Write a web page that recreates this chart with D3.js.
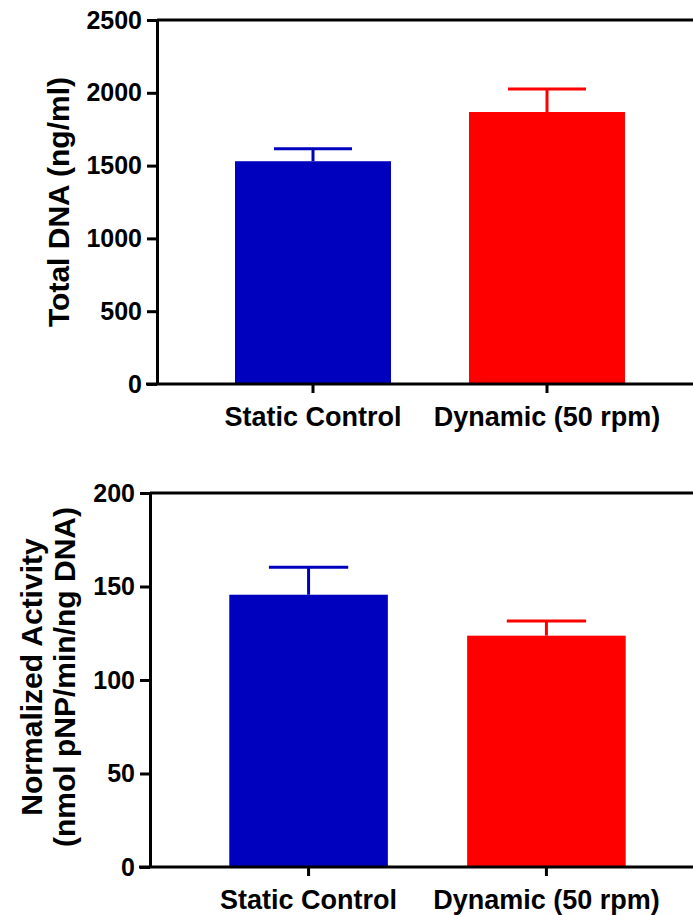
<!DOCTYPE html>
<html>
<head>
<meta charset="utf-8">
<script src="https://cdn.jsdelivr.net/npm/d3@7/dist/d3.min.js"></script>
<style>
  html, body { margin: 0; padding: 0; background: #fff; }
  svg { display: block; }
  text { font-family: "Liberation Sans", Arial, sans-serif; font-weight: bold; fill: #000; }
</style>
</head>
<body>
<svg id="chart" width="693" height="915"></svg>
<script>
// Group labels shared by both panels
const groups = ["Static Control", "Dynamic (50 rpm)"];
const barColors = ["#0000bf", "#ff0000"];

// Panel A: total DNA (ng/ml), mean and SEM
const dnaMean = [1530, 1868];
const dnaErr = [86, 158];
const dnaTicks = [0, 500, 1000, 1500, 2000, 2500];

// Panel B: normalized activity (nmol pNP/min/ng DNA), mean and SEM
const activityMean = [145.6, 123.7];
const activityErr = [14.7, 7.9];
const activityTicks = [0, 50, 100, 150, 200];

const svg = d3.select("#chart");

function drawPanel(cfg) {
  const g = svg.append("g");
  const x = d3.scaleBand()
    .domain(groups)
    .range([cfg.left, cfg.right])
    .paddingInner(1 / 3)
    .paddingOuter(1 / 3);
  const y = d3.scaleLinear()
    .domain([0, d3.max(cfg.ticks)])
    .range([cfg.bottom, cfg.top]);

  // bars
  g.selectAll("rect.bar")
    .data(cfg.mean)
    .join("rect")
    .attr("class", "bar")
    .attr("x", (d, i) => x(groups[i]))
    .attr("width", x.bandwidth())
    .attr("y", d => y(d))
    .attr("height", d => y(0) - y(d))
    .attr("fill", (d, i) => barColors[i]);

  // error bars (upper only)
  const eb = g.selectAll("g.err")
    .data(cfg.mean.map((m, i) => ({ m, e: cfg.err[i], i })))
    .join("g")
    .attr("class", "err")
    .attr("stroke", d => barColors[d.i])
    .attr("stroke-width", 3);
  eb.append("line")
    .attr("x1", d => x(groups[d.i]) + x.bandwidth() / 2)
    .attr("x2", d => x(groups[d.i]) + x.bandwidth() / 2)
    .attr("y1", d => y(d.m))
    .attr("y2", d => y(d.m + d.e));
  eb.append("line")
    .attr("x1", d => x(groups[d.i]) + x.bandwidth() / 4)
    .attr("x2", d => x(groups[d.i]) + x.bandwidth() * 3 / 4)
    .attr("y1", d => y(d.m + d.e))
    .attr("y2", d => y(d.m + d.e));

  // top frame line
  g.append("line")
    .attr("x1", cfg.left)
    .attr("x2", cfg.right + 20)
    .attr("y1", y(d3.max(cfg.ticks)))
    .attr("y2", y(d3.max(cfg.ticks)))
    .attr("stroke", "#000")
    .attr("stroke-width", 3);

  // y axis
  const ya = g.append("g")
    .attr("transform", `translate(${cfg.left},0)`)
    .call(d3.axisLeft(y).tickValues(cfg.ticks).tickFormat(d3.format("d"))
      .tickSize(10).tickSizeOuter(0).tickPadding(5));
  ya.selectAll("path, line").attr("stroke", "#000").attr("stroke-width", 3);
  ya.selectAll("text")
    .style("font-family", "'Liberation Sans', Arial, sans-serif")
    .style("font-weight", "bold")
    .style("font-size", "25px")
    .attr("fill", "#000");

  // x axis
  const xa = g.append("g")
    .attr("transform", `translate(0,${cfg.bottom})`)
    .call(d3.axisBottom(x).tickSize(9).tickSizeOuter(0).tickPadding(14));
  xa.select("path.domain").attr("d", `M${cfg.left - 11},0H${cfg.right + 20}`);
  xa.selectAll("path, line").attr("stroke", "#000").attr("stroke-width", 3);
  xa.selectAll("text")
    .style("font-family", "'Liberation Sans', Arial, sans-serif")
    .style("font-weight", "bold")
    .style("font-size", "27px")
    .attr("fill", "#000");

  // y axis title
  const cy = (cfg.top + cfg.bottom) / 2 + cfg.titleShift;
  cfg.title.forEach((line, k) => {
    g.append("text")
      .attr("transform", `translate(${cfg.titleX[k]},${cy}) rotate(-90)`)
      .attr("text-anchor", "middle")
      .style("font-size", "30px")
      .text(line);
  });
}

drawPanel({
  left: 157, right: 703, top: 20, bottom: 384,
  ticks: dnaTicks, mean: dnaMean, err: dnaErr,
  title: ["Total DNA (ng/ml)"], titleX: [69], titleShift: 0
});

drawPanel({
  left: 150, right: 705, top: 493, bottom: 867,
  ticks: activityTicks, mean: activityMean, err: activityErr,
  title: ["Normalized Activity", "(nmol pNP/min/ng DNA)"], titleX: [42, 75], titleShift: -3
});
</script>
</body>
</html>
